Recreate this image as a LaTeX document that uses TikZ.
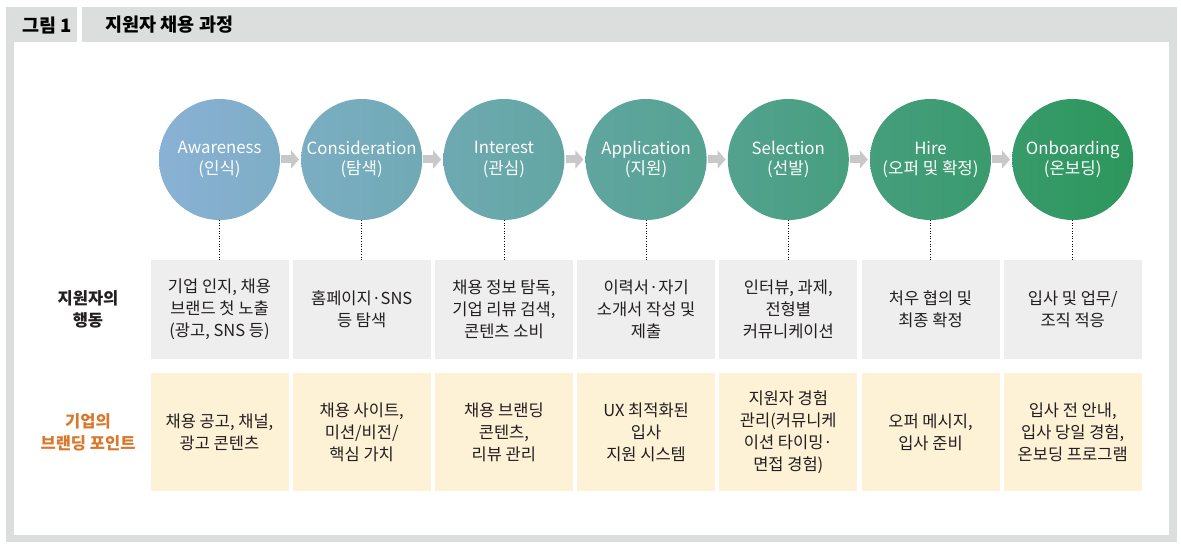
\documentclass[tikz,border=0pt]{standalone}
\usepackage{fontspec}
\setmainfont{Noto Sans CJK KR}
\usepackage{tikz}
\usetikzlibrary{positioning,arrows.meta}
\definecolor{framegray}{HTML}{DCDEDD}
\definecolor{boxgray}{HTML}{EEEEEE}
\definecolor{boxcream}{HTML}{FDF1D6}
\definecolor{brandorange}{HTML}{D9772B}
\definecolor{arrowgray}{HTML}{C8C8C8}
\definecolor{stageblue}{HTML}{89B1D5}
\definecolor{stagegreen}{HTML}{2C975C}
\definecolor{textdark}{HTML}{231F20}
\tikzset{
    stage/.style={circle, minimum size=121pt, inner sep=0pt, text=white, align=center, font=\fontsize{16.8}{20.5}\selectfont},
    action/.style={fill=boxgray, minimum width=138pt, minimum height=99pt, inner sep=0pt, align=center, text=textdark, font=\fontsize{16.5}{22}\selectfont},
    brand/.style={action, fill=boxcream, minimum height=118pt},
    rowlabel/.style={align=center, text=textdark, font=\bfseries\fontsize{16.5}{22}\selectfont},
    headtext/.style={text=black, font=\bfseries\fontsize{18.5}{20}\selectfont},
    flow/.style={arrowgray, line width=8pt, -{Triangle[length=8pt,width=18pt]}, shorten <=1pt, shorten >=2pt},
    link/.style={dotted, line width=0.6pt}
}

\begin{document}
\begin{tikzpicture}[x=1pt, y=-1pt]
    \useasboundingbox (0,0) rectangle (1181,548);

    % Frame and header
    \fill[framegray] (6,7) rectangle (77,42);
    \fill[framegray] (82,7) rectangle (1177,42);
    \fill[framegray] (6,42) rectangle (14,542);
    \fill[framegray] (6,535) rectangle (1177,542);
    \fill[framegray] (1169,42) rectangle (1177,542);
    \node[headtext] (fignum) at (47,25) {그림 1};
    \node[headtext, anchor=west] (figtitle) at (102,25) {지원자 채용 과정};

    % Stages
    \node[stage, left color=stageblue, right color=stagegreen!12!stageblue] (aware) at (219.5,159.5) {Awareness\\(인식)};
    \node[stage, left color=stagegreen!15!stageblue, right color=stagegreen!27!stageblue] (consid) at (361.7,159.5) {Consideration\\(탐색)};
    \node[stage, left color=stagegreen!29!stageblue, right color=stagegreen!42!stageblue] (interest) at (503.9,159.5) {Interest\\(관심)};
    \node[stage, left color=stagegreen!44!stageblue, right color=stagegreen!56!stageblue] (apply) at (646.1,159.5) {Application\\(지원)};
    \node[stage, left color=stagegreen!58!stageblue, right color=stagegreen!71!stageblue] (select) at (788.3,159.5) {Selection\\(선발)};
    \node[stage, left color=stagegreen!73!stageblue, right color=stagegreen!85!stageblue] (hire) at (930.5,159.5) {Hire\\(오퍼 및 확정)};
    \node[stage, left color=stagegreen!88!stageblue, right color=stagegreen] (onboard) at (1072.7,159.5) {Onboarding\\(온보딩)};

    \draw[flow] (aware.east) -- (consid.west);
    \draw[flow] (consid.east) -- (interest.west);
    \draw[flow] (interest.east) -- (apply.west);
    \draw[flow] (apply.east) -- (select.west);
    \draw[flow] (select.east) -- (hire.west);
    \draw[flow] (hire.east) -- (onboard.west);

    % Row labels
    \node[rowlabel] (lblact) at (88,309.5) {지원자의\\행동};
    \node[rowlabel, text=brandorange] (lblbrand) at (88,432) {기업의\\브랜딩 포인트};

    % Applicant actions
    \node[action] (act1) at (219.5,309.5) {기업 인지, 채용\\브랜드 첫 노출\\(광고, SNS 등)};
    \node[action] (act2) at (361.7,309.5) {홈페이지·SNS\\등 탐색};
    \node[action] (act3) at (503.9,309.5) {채용 정보 탐독,\\기업 리뷰 검색,\\콘텐츠 소비};
    \node[action] (act4) at (646.1,309.5) {이력서·자기\\소개서 작성 및\\제출};
    \node[action] (act5) at (788.3,309.5) {인터뷰, 과제,\\전형별\\커뮤니케이션};
    \node[action] (act6) at (930.5,309.5) {처우 협의 및\\최종 확정};
    \node[action] (act7) at (1072.7,309.5) {입사 및 업무/\\조직 적응};

    % Branding points
    \node[brand] (brd1) at (219.5,432) {채용 공고, 채널,\\광고 콘텐츠};
    \node[brand] (brd2) at (361.7,432) {채용 사이트,\\미션/비전/\\핵심 가치};
    \node[brand] (brd3) at (503.9,432) {채용 브랜딩\\콘텐츠,\\리뷰 관리};
    \node[brand] (brd4) at (646.1,432) {UX 최적화된\\입사\\지원 시스템};
    \node[brand] (brd5) at (788.3,432) {지원자 경험\\관리(커뮤니케\\이션 타이밍·\\면접 경험)};
    \node[brand] (brd6) at (930.5,432) {오퍼 메시지,\\입사 준비};
    \node[brand] (brd7) at (1072.7,432) {입사 전 안내,\\입사 당일 경험,\\온보딩 프로그램};

    % Dotted links
    \draw[link] (aware.south) -- (act1.north);
    \draw[link] (consid.south) -- (act2.north);
    \draw[link] (interest.south) -- (act3.north);
    \draw[link] (apply.south) -- (act4.north);
    \draw[link] (select.south) -- (act5.north);
    \draw[link] (hire.south) -- (act6.north);
    \draw[link] (onboard.south) -- (act7.north);
\end{tikzpicture}
\end{document}
